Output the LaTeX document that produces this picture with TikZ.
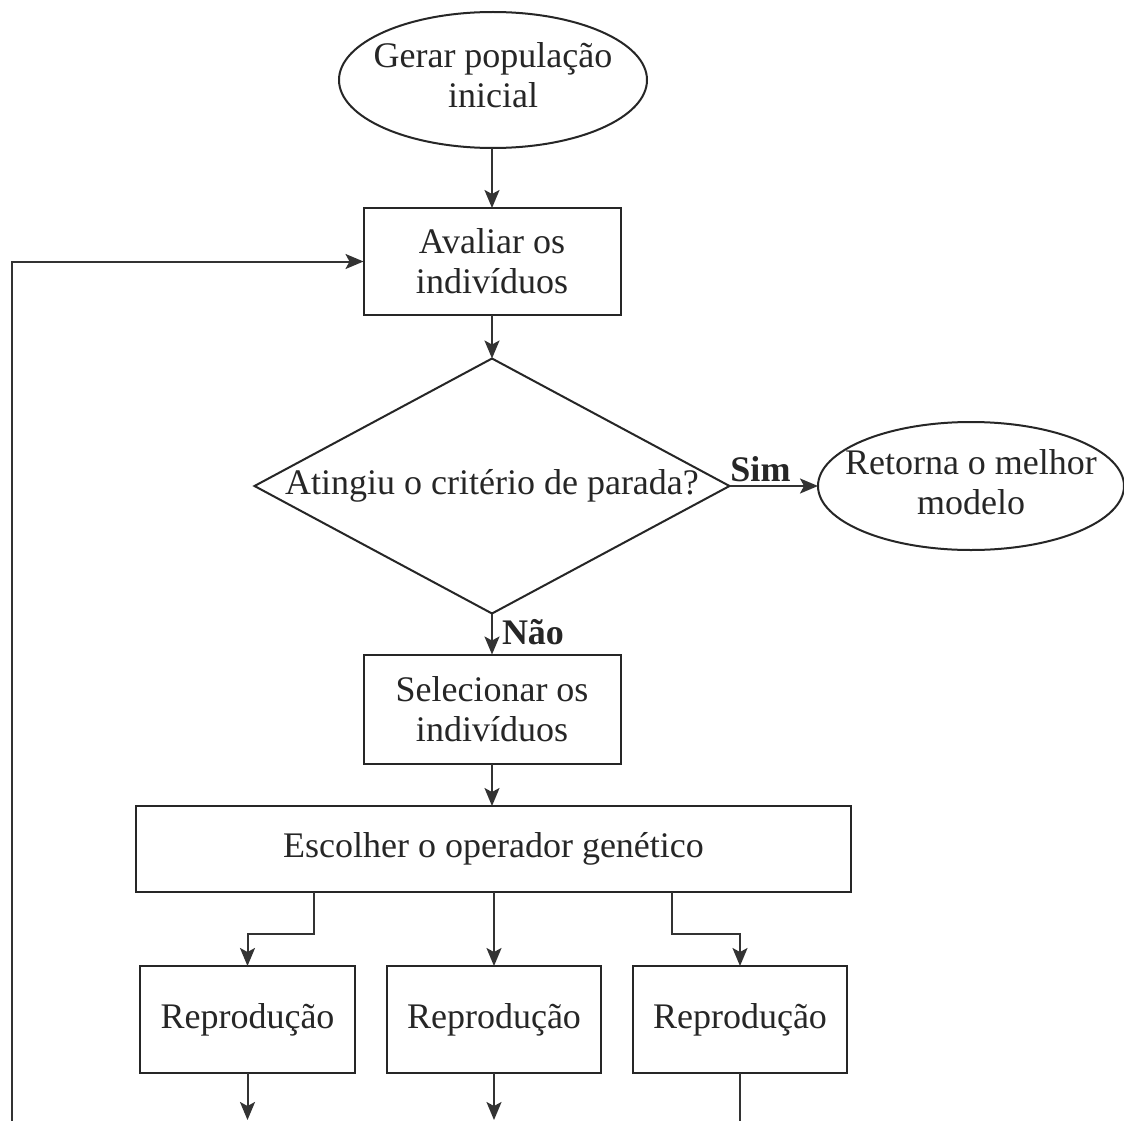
\documentclass[tikz,border=0pt]{standalone}
\usepackage{fontspec}
\setmainfont{Liberation Serif}
\usetikzlibrary{shapes.geometric,arrows.meta}
\newcommand\fsz{\fontsize{36}{40}\selectfont}
\newcommand\twolines[2]{\makebox[0pt]{\begin{tabular}{@{}c@{}}#1\\#2\end{tabular}}}
\begin{document}
\begin{tikzpicture}[x=1pt,y=-1pt,
  base/.style={draw=black!85, line width=2pt, font=\fsz, text=black!85, inner sep=0pt, outer sep=0pt},
  procbox/.style={base, rectangle, align=center},
  term/.style={base, ellipse},
  decis/.style={base, diamond},
  conn/.style={line width=2pt, draw=black!80},
  arr/.style={conn, -{Stealth[length=18pt,width=15pt,inset=4pt]}},
  lbl/.style={font=\fsz\bfseries, text=black!85, inner sep=2pt}]
\fill[white] (0,0) rectangle (1124,1121);
\useasboundingbox (0,0) rectangle (1124,1121);

\node[term, minimum width=308pt, minimum height=136pt] (init) at (493,80) {\twolines{Gerar população}{inicial}};
\node[procbox, minimum width=257pt, minimum height=107pt] (aval) at (492,261.5) {Avaliar os\\indivíduos};
\node[decis, minimum width=475pt, minimum height=255pt] (dec) at (492,486) {\makebox[0pt]{Atingiu o critério de parada?}};
\node[term, minimum width=306pt, minimum height=128pt] (ret) at (971,486) {\twolines{Retorna o melhor}{modelo}};
\node[procbox, minimum width=257pt, minimum height=109pt] (sel) at (492,709) {Selecionar os\\indivíduos};
\node[procbox, minimum width=715pt, minimum height=86pt] (esc) at (493.5,849) {Escolher o operador genético};
\node[procbox, minimum width=215pt, minimum height=107pt] (rep1) at (247.5,1019.5) {Reprodução};
\node[procbox, minimum width=214pt, minimum height=107pt] (rep2) at (494,1019.5) {Reprodução};
\node[procbox, minimum width=214pt, minimum height=107pt] (rep3) at (740,1019.5) {Reprodução};

\coordinate (j1) at (314,934);
\coordinate (j3) at (672,934);
\coordinate (e1) at (247.5,1120);
\coordinate (e2) at (494,1120);
\coordinate (e3) at (740,1121);
\coordinate (loopb) at (12,1121);

\draw[arr] (aval.north |- init.south) -- (aval.north);
\draw[arr] (aval.south) -- (dec.north);
\draw[arr] (dec.east) -- node[lbl, above, pos=0.35, yshift=1pt] {Sim} (ret.west);
\draw[arr] (dec.south) -- node[lbl, right, pos=0.5, xshift=7pt, yshift=2pt] {Não} (sel.north);
\draw[arr] (sel.south) -- (sel.south |- esc.north);
\draw[arr] (j1 |- esc.south) -- (j1) -| (rep1.north);
\draw[arr] (rep2.north |- esc.south) -- (rep2.north);
\draw[arr] (j3 |- esc.south) -- (j3) -| (rep3.north);
\draw[arr] (rep1.south) -- (e1);
\draw[arr] (rep2.south) -- (e2);
\draw[conn] (rep3.south) -- (e3);
\draw[arr] (loopb) |- (aval.west);
\end{tikzpicture}
\end{document}
